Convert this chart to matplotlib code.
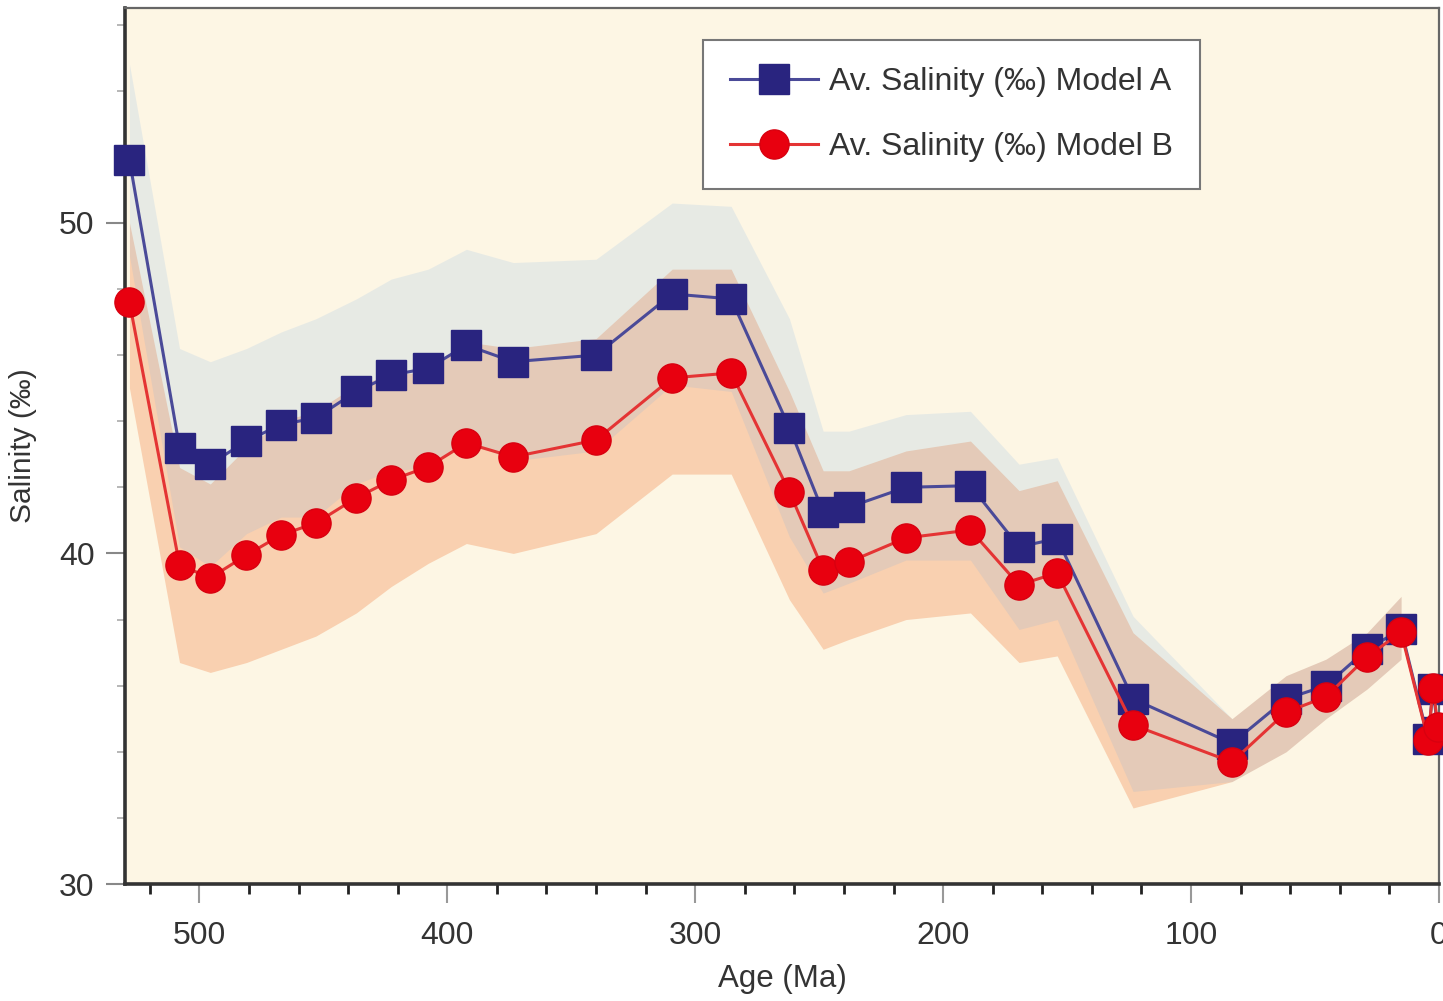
import matplotlib
matplotlib.use("Agg")
import matplotlib.pyplot as plt
from matplotlib.ticker import MultipleLocator

plt.rcParams['font.family'] = ['Liberation Sans', 'DejaVu Sans']

# ---- data ----
ages = [528.2, 508, 495.6, 481, 467, 453, 436.7, 422.6, 407.7, 392.3, 373.4, 340,
        309.3, 285.5, 262, 248.4, 238, 215, 189, 169.4, 154, 123.4, 83.5, 61.7,
        45.6, 29, 15.3, 4.4, 2.4, 0.4]
sal_a = [51.9, 43.2, 42.7, 43.4, 43.9, 44.1, 44.9, 45.4, 45.6, 46.3, 45.8, 46.0,
         47.85, 47.7, 43.8, 41.25, 41.4, 42.0, 42.05, 40.2, 40.45, 35.6, 34.25, 35.6,
         36.0, 37.1, 37.7, 34.4, 35.9, 34.6]
sal_b = [47.6, 39.65, 39.26, 39.95, 40.56, 40.92, 41.68, 42.22, 42.62, 43.34, 42.92, 43.43,
         45.31, 45.46, 41.86, 39.5, 39.74, 40.47, 40.71, 39.05, 39.41, 34.81, 33.69, 35.2,
         35.66, 36.87, 37.62, 34.36, 35.93, 34.75]

# uncertainty envelopes (defined from 528 to ~15 Ma)
band_ages = ages[:27]
a_upper = [54.8, 46.2, 45.8, 46.2, 46.7, 47.1, 47.7, 48.3, 48.6, 49.2, 48.8, 48.9,
           50.6, 50.5, 47.1, 43.7, 43.7, 44.2, 44.3, 42.7, 42.9, 38.1, 35.0, 36.3,
           36.8, 37.6, 38.7]
a_lower = [49.0, 40.2, 39.6, 40.6, 41.1, 41.1, 42.1, 42.5, 42.6, 43.4, 42.8, 43.1,
           45.1, 44.9, 40.5, 38.8, 39.1, 39.8, 39.8, 37.7, 38.0, 32.8, 33.1, 34.0,
           35.0, 35.9, 36.8]
b_upper = [50.0, 42.6, 42.1, 43.2, 44.0, 44.3, 45.1, 45.4, 45.5, 46.4, 46.2, 46.5,
           48.6, 48.6, 44.9, 42.5, 42.5, 43.1, 43.4, 41.9, 42.2, 37.6, 35.0, 36.3,
           36.8, 37.6, 38.7]
b_lower = [45.0, 36.7, 36.4, 36.7, 37.1, 37.5, 38.2, 39.0, 39.7, 40.3, 40.0, 40.6,
           42.4, 42.4, 38.6, 37.1, 37.4, 38.0, 38.2, 36.7, 36.9, 32.3, 33.1, 34.0,
           35.0, 35.9, 36.8]

label_a = "Av. Salinity (‰) Model A"
label_b = "Av. Salinity (‰) Model B"

# ---- figure ----
fig = plt.figure(figsize=(14.43, 10.01), dpi=100)
ax = fig.add_axes([125/1443, 1-884/1001, 1314/1443, 876/1001])
ax.set_facecolor('#fdf6e4')

ax.fill_between(band_ages, b_lower, b_upper, color='#f9d0b0', lw=0, zorder=1)
ax.fill_between(band_ages, a_lower, a_upper, color='#6eaae6', alpha=0.15, lw=0, zorder=2)

ax.plot(ages, sal_a, color='#4a4a98', lw=2.2, marker='s', ms=21,
        mfc='#29247f', mec='#29247f', label=label_a, zorder=3, clip_on=False)
ax.plot(ages, sal_b, color='#e43434', lw=2.2, marker='o', ms=21,
        mfc='#e8000f', mec='#d8000f', label=label_b, zorder=4, clip_on=False)

ax.set_xlim(530, 0)
ax.set_ylim(30, 56.5)

ax.xaxis.set_major_locator(MultipleLocator(100))
ax.xaxis.set_minor_locator(MultipleLocator(20))
ax.yaxis.set_major_locator(MultipleLocator(10))
ax.yaxis.set_minor_locator(MultipleLocator(2))

ax.tick_params(axis='x', which='major', direction='out', length=14, width=1.5,
               color='#999999', labelsize=23, pad=13, labelcolor='#333333')
ax.tick_params(axis='x', which='minor', direction='out', length=7, width=2,
               color='#222222')
ax.tick_params(axis='y', which='major', direction='out', length=14, width=1.5,
               color='#888888', labelsize=23, pad=8, labelcolor='#333333')
ax.tick_params(axis='y', which='minor', direction='out', length=6, width=1.2,
               color='#aaaaaa')

for side in ['left', 'bottom']:
    ax.spines[side].set_color('#333333')
    ax.spines[side].set_linewidth(2.6)
for side in ['top', 'right']:
    ax.spines[side].set_color('#666666')
    ax.spines[side].set_linewidth(1.6)

ax.set_xlabel('Age (Ma)', fontsize=22.5, color='#333333', labelpad=9)
ax.set_ylabel('Salinity (‰)', fontsize=21.5, color='#333333', labelpad=16)

leg = ax.legend(loc='upper left', bbox_to_anchor=(0.44, 0.9635), fontsize=23,
                handlelength=2.75, handletextpad=0.35, labelspacing=1.1,
                borderpad=0.85, borderaxespad=0, fancybox=False, framealpha=1,
                edgecolor='#777777', facecolor='white')
leg.get_frame().set_linewidth(1.5)
for t in leg.get_texts():
    t.set_color('#333333')

fig.savefig('out.png', dpi=100)
